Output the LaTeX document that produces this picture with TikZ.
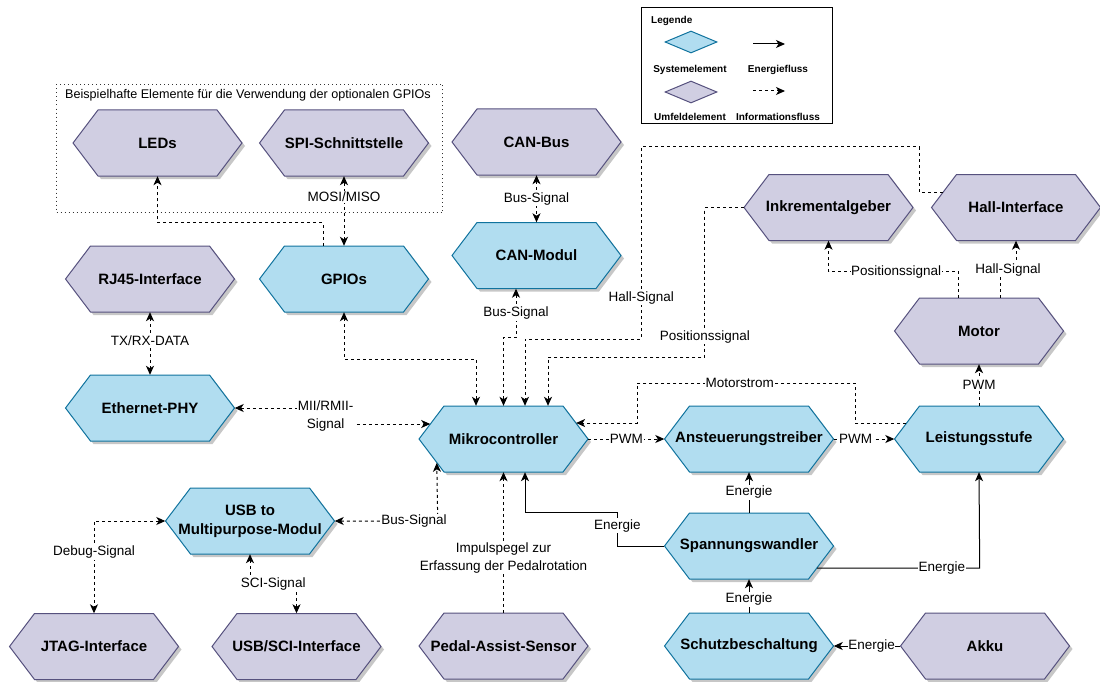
\documentclass[tikz,border=0pt]{standalone}
\usepackage{fontspec}
\setmainfont{Liberation Sans}
\usetikzlibrary{arrows.meta,calc,shapes.geometric}
\definecolor{sysfill}{HTML}{B1DDF0}
\definecolor{sysdraw}{HTML}{10739E}
\definecolor{umffill}{HTML}{D0CEE2}
\definecolor{umfdraw}{HTML}{56517E}
\newcommand{\hexnode}[5]{%
  \begin{scope}[shift={(#2,#3)}]
    \fill[hexshadow,shift={(3,3)}] (-84.5,0) -- (-59.5,-33) -- (59.5,-33) -- (84.5,0) -- (59.5,33) -- (-59.5,33) -- cycle;
    \filldraw[#4] (-84.5,0) -- (-59.5,-33) -- (59.5,-33) -- (84.5,0) -- (59.5,33) -- (-59.5,33) -- cycle;
  \end{scope}
  \node[hexlabel] (#1) at (#2,#3) {#5};
}
\begin{document}
\begin{tikzpicture}[x=1pt,y=-1pt,
  >={Stealth[length=9pt,width=8pt,inset=2.5pt]},
  sys/.style={fill=sysfill, draw=sysdraw, line width=1pt, line join=miter},
  umf/.style={fill=umffill, draw=umfdraw, line width=1pt, line join=miter},
  hexshadow/.style={fill=black!22},
  hexlabel/.style={rectangle, inner sep=0pt, minimum width=169pt, minimum height=66pt,
    font=\bfseries\fontsize{15}{19}\selectfont, align=center},
  info/.style={line width=1pt, dash pattern=on 3pt off 3pt},
  energy/.style={line width=1pt},
  lbl/.style={fill=white, inner sep=1.2pt, font=\fontsize{13.5}{18}\selectfont},
  legtxt/.style={font=\bfseries\fontsize{10}{12}\selectfont, inner sep=0pt},
]
\useasboundingbox (0,0) rectangle (1100,682);

% ---------- legend ----------
\node[draw=black, line width=1pt, rectangle, minimum width=191pt, minimum height=116pt,
  inner sep=0pt, anchor=north west] (legend) at (641,7) {};
\node[legtxt, anchor=base west] (legtitle) at (651,24) {Legende};
\node[diamond, sys, minimum width=52pt, minimum height=22pt, inner sep=0pt] (legsys) at (691,42) {};
\node[legtxt] (legsystxt) at (690,70) {Systemelement};
\node[diamond, umf, minimum width=52pt, minimum height=22pt, inner sep=0pt] (legumf) at (691,92) {};
\node[legtxt] (legumftxt) at (690,117) {Umfeldelement};
\coordinate (le1) at (753,44);
\coordinate (le2) at (785,44);
\draw[energy,->] (le1) -- (le2);
\node[legtxt] (legen) at (778,70) {Energiefluss};
\coordinate (li1) at (753,91);
\coordinate (li2) at (785,91);
\draw[info,->] (li1) -- (li2);
\node[legtxt] (leginf) at (778,117) {Informationsfluss};

% ---------- group box ----------
\node[draw=black!80, line width=1pt, dash pattern=on 1pt off 3pt, rectangle,
  minimum width=386pt, minimum height=128pt, inner sep=0pt, anchor=north west] (grp) at (56,84) {};
\node[anchor=base west, inner sep=0pt, font=\fontsize{12.6}{15}\selectfont] (grplbl) at (65,99)
  {Beispielhafte Elemente für die Verwendung der optionalen GPIOs};

% ---------- nodes ----------
\hexnode{leds}{157.5}{143}{umf}{LEDs}
\hexnode{spi}{344}{143}{umf}{SPI-Schnittstelle}
\hexnode{canbus}{536.5}{142}{umf}{CAN-Bus}
\hexnode{rj45}{150}{279}{umf}{RJ45-Interface}
\hexnode{gpio}{344}{279}{sys}{GPIOs}
\hexnode{canmod}{536.5}{255.5}{sys}{CAN-Modul}
\hexnode{inkr}{828.5}{207.5}{umf}{Inkrementalgeber}
\hexnode{hall}{1016}{207.5}{umf}{Hall-Interface}
\hexnode{motor}{979}{331}{umf}{Motor}
\hexnode{eth}{150}{408}{sys}{Ethernet-PHY}
\hexnode{mikro}{503.5}{439}{sys}{Mikrocontroller}
\hexnode{anst}{749}{439}{sys}{Ansteuerungstreiber}
\hexnode{leist}{979}{439}{sys}{Leistungsstufe}
\hexnode{spw}{749}{546}{sys}{Spannungswandler}
\hexnode{usb}{250}{521}{sys}{USB to\\Multipurpose-Modul}
\hexnode{jtag}{94}{646.5}{umf}{JTAG-Interface}
\hexnode{usbsci}{296.5}{646.5}{umf}{USB/SCI-Interface}
\hexnode{pedal}{503.5}{646}{umf}{Pedal-Assist-Sensor}
\hexnode{schutz}{749}{646}{sys}{Schutzbeschaltung}
\hexnode{akku}{985}{646}{umf}{Akku}

% ---------- information flows ----------
\draw[info,->] ($(gpio.north)+(-21,0)$) -- ++(0,-23) -| (leds.south);
\draw[info,<->] (gpio.north) -- node[lbl,pos=0.7]{MOSI/MISO} (spi.south);
\draw[info,<->] (rj45.south) -- node[lbl,pos=0.46]{TX/RX-DATA} (eth.north);
\draw[info,<->] (eth.east) -- ++(91,0) -- node[lbl,align=center]{MII/RMII-\\Signal} ++(0,16)
  -- ($(mikro.west)+(11.4,-15)$);
\draw[info,<->] (gpio.south) -- ++(0,47) -| ($(mikro.north)+(-27.5,0)$);
\draw[info,<->] ($(canmod.south)+(-20.5,0)$) -- node[lbl]{Bus-Signal} ++(0,49) -| (mikro.north);
\draw[info,<->] (canbus.south) -- node[lbl]{Bus-Signal} (canmod.north);
\draw[info,->] ($(hall.west)+(11.6,-15.5)$) -- ++(-23.6,0) -- ++(0,-45) -- ++(-278,0)
  -- node[lbl,pos=0.786]{Hall-Signal} ++(0,192) -| ($(mikro.north)+(21.5,0)$);
\draw[info,->] (inkr.west) -- ++(-39,0) -- node[lbl,pos=0.866]{Positionssignal} ++(0,149.5)
  -| ($(mikro.north)+(44.5,0)$);
\draw[info,->] ($(leist.west)+(12.1,-16)$) -- ++(-51.1,0) -- ++(0,-40)
  -- node[lbl,pos=0.53,inner sep=0.5pt]{Motorstrom} ++(-218,0) -- ++(0,40) -- ($(mikro.east)+(-12.1,-16)$);
\draw[info,->] (mikro.east) -- node[lbl]{PWM} (anst.west);
\draw[info,->] (anst.east) -- node[lbl,pos=0.36,inner sep=0.5pt]{PWM} (leist.west);
\draw[info,->] (leist.north) -- node[lbl]{PWM} (motor.south);
\draw[info,->] ($(motor.north)+(-20.5,0)$) -- ++(0,-26)
  -- node[lbl,pos=0.48,inner sep=0.5pt]{Positionssignal} ++(-130,0) -- (inkr.south);
\draw[info,->] ($(motor.north)+(21,0)$) -- ++(0,-28) -- node[lbl]{Hall-Signal} ++(16,0) -- (hall.south);
\draw[info,->] (pedal.north) -- node[lbl,pos=0.39,align=center]{Impulspegel zur\\Erfassung der Pedalrotation} (mikro.south);
\draw[info,<->] (usb.east) -- node[lbl,pos=0.77]{Bus-Signal} ++(103,0) -- ($(mikro.west)+(18,23.8)$);
\draw[info,<->] (usb.west) -| node[lbl,pos=0.668]{Debug-Signal} (jtag.north);
\draw[info,<->] (usb.south) -- ++(0,30) -- node[lbl]{SCI-Signal} ++(46.5,0) -- (usbsci.north);

% ---------- energy flows ----------
\draw[energy,->] (spw.north) -- node[lbl]{Energie} (anst.south);
\draw[energy,->] (spw.west) -- ++(-47,0) -- node[lbl,pos=0.6]{Energie} ++(0,-34) -| ($(mikro.south)+(21.5,0)$);
\draw[energy,->] ($(spw.east)+(-16.7,22)$) -- node[lbl,pos=0.767,inner sep=0.5pt]{Energie} ++(162.7,0) -- (leist.south);
\draw[energy,->] (schutz.north) -- node[lbl,pos=0.4]{Energie} (spw.south);
\draw[energy,->] (akku.west) -- node[lbl,pos=0.43,inner sep=0.5pt]{Energie} (schutz.east);
\end{tikzpicture}
\end{document}
